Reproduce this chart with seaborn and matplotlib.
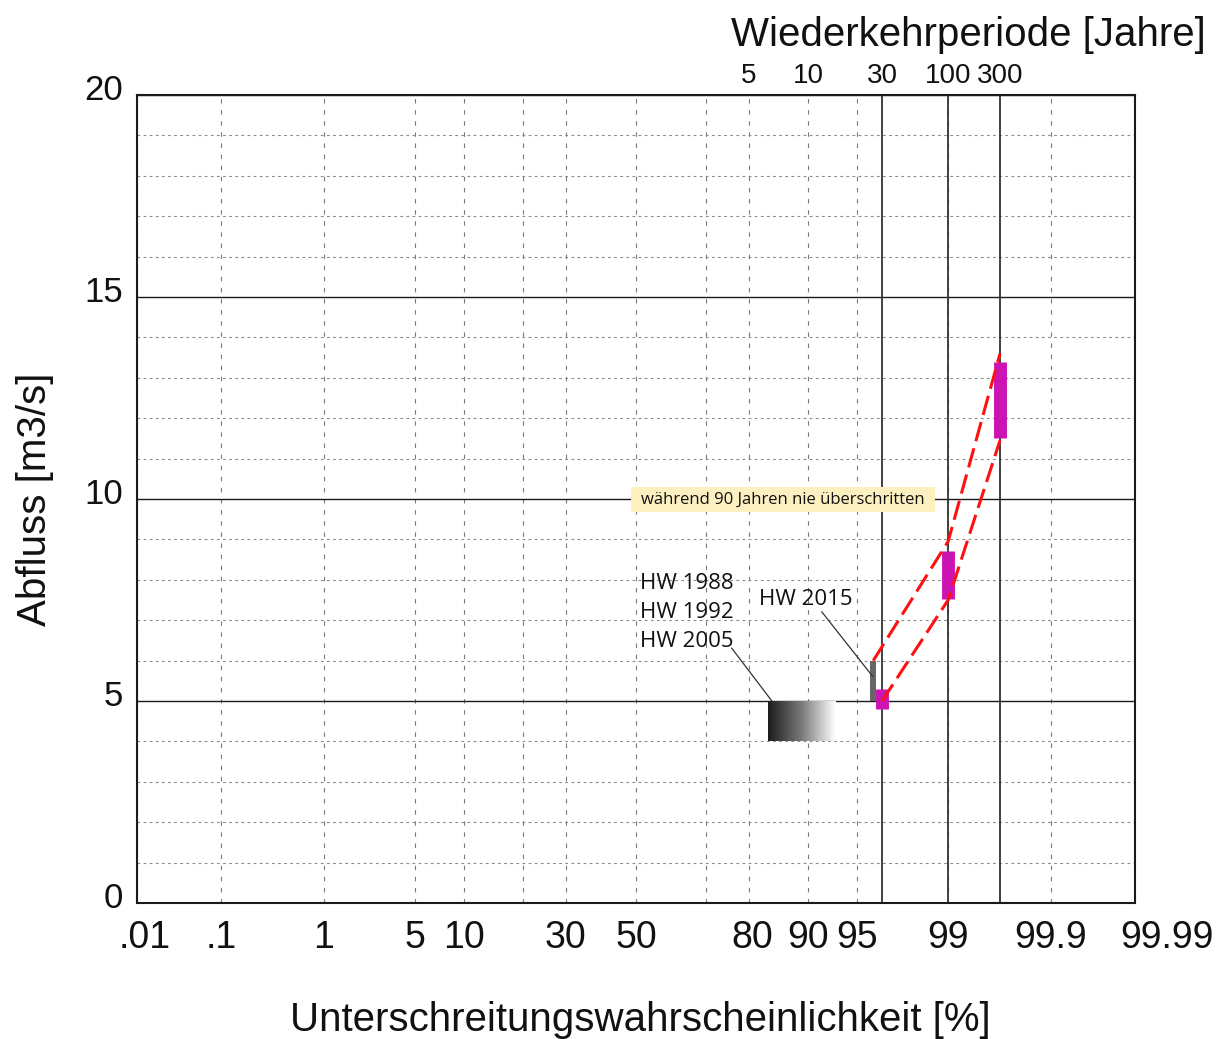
import numpy as np
import pandas as pd
import matplotlib
matplotlib.use("Agg")
import matplotlib.pyplot as plt
import matplotlib.transforms as mtransforms
from matplotlib.colors import LinearSegmentedColormap
import seaborn as sns
from statistics import NormalDist

# ---- axis definitions ---------------------------------------------------
prob_ticks = [0.01, 0.1, 1, 5, 10, 30, 50, 80, 90, 95, 99, 99.9, 99.99]
prob_labels = [".01", ".1", "1", "5", "10", "30", "50", "80", "90", "95", "99", "99.9", "99.99"]
prob_minor = [20, 70]
return_periods = [5, 10, 30, 100, 300]
marked_periods = [30, 100, 300]
q_ticks = [0, 5, 10, 15, 20]
q_minor = list(range(0, 21))

# ---- data ---------------------------------------------------------------
# estimated design discharge range for the marked return periods
design_T = [30, 100, 300]
design_low = [4.8, 7.52, 11.5]
design_high = [5.3, 8.72, 13.38]

# envelope of the estimate (red dashed)
upper_p = [96.15, 99.0, 99.667]
upper_q = [6.0, 8.95, 13.6]
lower_T = [30, 100, 300]
lower_q = [5.0, 7.5, 11.45]

# flood of 2015
hw2015_p = 96.15
hw2015_q = [5.0, 6.0]

# floods of 1988 / 1992 / 2005 (probability range)
hist_p = [83.7, 93.2]
hist_q = [4.0, 5.0]
hist_labels = ["HW 1988", "HW 1992", "HW 2005"]

note_text = "während 90 Jahren nie überschritten"

# ---- normal probability scale ------------------------------------------
_nd = NormalDist()
_ppf = np.vectorize(_nd.inv_cdf, otypes=[float])
_cdf = np.vectorize(_nd.cdf, otypes=[float])


def prob_to_z(p):
    p = np.clip(np.asarray(p, dtype=float) / 100.0, 1e-12, 1 - 1e-12)
    return _ppf(p)


def z_to_prob(z):
    return _cdf(np.asarray(z, dtype=float)) * 100.0


def period_to_prob(T):
    return 100.0 * (1.0 - 1.0 / np.asarray(T, dtype=float))


sns.set_theme(style="white")
plt.rcParams["font.family"] = ["Liberation Sans", "DejaVu Sans"]
plt.rcParams.update({"text.color": "#111111", "axes.labelcolor": "#111111",
                     "xtick.color": "#111111", "ytick.color": "#111111"})
HUMAN = ["Open Sans", "DejaVu Sans"]

fig = plt.figure(figsize=(12.24, 10.39), dpi=100)
ax = fig.add_axes([137 / 1224, 1 - 903 / 1039, 998 / 1224, 808 / 1039])
ax.set_xscale("function", functions=(prob_to_z, z_to_prob))
ax.set_xlim(0.01, 99.99)
ax.set_ylim(0, 20)

# ticks & grid
ax.set_xticks(prob_ticks)
ax.set_xticklabels(prob_labels, fontsize=27)
ax.set_xticks(prob_minor, minor=True)
ax.set_yticks(q_ticks)
ax.set_yticklabels([str(v) for v in q_ticks], fontsize=25)
ax.set_yticks(q_minor, minor=True)
ax.tick_params(which="both", length=0)
ax.tick_params(axis="x", pad=12)
ax.tick_params(axis="y", pad=10)
ax.set_axisbelow(True)
ax.xaxis.grid(True, which="both", ls=(0, (4, 6)), color="#7a7a7a", lw=0.8)
ax.yaxis.grid(True, which="minor", ls=(0, (2.5, 3)), color="#8c8c8c", lw=0.8)
ax.yaxis.grid(True, which="major", ls="-", color="#1a1a1a", lw=1.0)

for sp in ax.spines.values():
    sp.set_color("#1a1a1a")
    sp.set_linewidth(1.5)

# tick label nudges
up = mtransforms.ScaledTranslation(0, 8 / 100, fig.dpi_scale_trans)
for lab in ax.get_yticklabels():
    lab.set_transform(lab.get_transform() + up)
shifts = {".01": 8, "99.99": 32, "80": 3}
for lab in ax.get_xticklabels():
    dx = shifts.get(lab.get_text(), 0)
    if dx:
        lab.set_transform(lab.get_transform() + mtransforms.ScaledTranslation(dx / 100, 0, fig.dpi_scale_trans))

# solid lines for the marked return periods
for T in marked_periods:
    ax.axvline(period_to_prob(T), color="#333333", lw=1.3, zorder=1.5)

# historic floods band with fading fill
z_edges = np.linspace(prob_to_z(hist_p[0]), prob_to_z(hist_p[1]), 90)
x_edges = z_to_prob(z_edges)
shade = np.linspace(0, 1, len(x_edges) - 1)[None, :]
fade = LinearSegmentedColormap.from_list("fade", ["#1c1c1c", "#7a7a7a", "#ffffff"])
ax.pcolormesh(x_edges, hist_q, shade, cmap=fade, shading="flat", zorder=2)

# 2015 flood bar
ax.vlines(hw2015_p, hw2015_q[0], hw2015_q[1], color="#666666", lw=4.3, capstyle="butt", zorder=3)

# design discharge ranges
ax.vlines(period_to_prob(design_T), design_low, design_high, color="#cc14b4",
          lw=9.3, capstyle="butt", zorder=3)

# envelope
env = pd.DataFrame({
    "p": list(upper_p) + list(period_to_prob(lower_T)),
    "q": upper_q + lower_q,
    "line": ["upper"] * len(upper_q) + ["lower"] * len(lower_q),
})
sns.lineplot(data=env, x="p", y="q", units="line", estimator=None, sort=False,
             color="#ff1111", lw=2.2, linestyle=(0, (6.5, 2.4)), ax=ax, zorder=4,
             legend=False)

# note box on the 10 m3/s line
ax.fill_between([48.42, 98.71], 9.68, 10.30, color="#fdf0c0", lw=0, zorder=2.5)
ax.text(86.3, 9.99, note_text, ha="center", va="center", fontsize=12,
        family=HUMAN, color="#111111", zorder=3)

# flood labels with leader lines
for lab, q in zip(hist_labels, [7.77, 7.05, 6.34]):
    ax.text(51.2, q, lab, ha="left", va="baseline", fontsize=16, family=HUMAN,
            color="#111111", zorder=3)
ax.text(82.0, 7.38, "HW 2015", ha="left", va="baseline", fontsize=16, family=HUMAN,
        color="#111111", zorder=3)
leader = dict(arrowstyle="-", color="#333333", lw=0.9, shrinkA=0, shrinkB=0)
ax.annotate("", xy=(84.98, 4.90), xytext=(76.2, 6.31), arrowprops=leader, zorder=3)
ax.annotate("", xy=(96.13, 5.60), xytext=(91.68, 7.21), arrowprops=leader, zorder=3)

ax.set_xlabel("Unterschreitungswahrscheinlichkeit [%]", fontsize=29)
ax.xaxis.set_label_coords(0.504, -0.121)
ax.set_ylabel("Abfluss [m3/s]", fontsize=29)
ax.yaxis.set_label_coords(-0.083, 0.5)

# return period axis on top
ax2 = ax.twiny()
ax2.set_xscale("function", functions=(prob_to_z, z_to_prob))
ax2.set_xlim(ax.get_xlim())
ax2.set_xticks(period_to_prob(return_periods))
ax2.set_xticklabels([str(T) for T in return_periods], fontsize=20)
ax2.tick_params(length=0, pad=4)
ax2.grid(False)
for sp in ax2.spines.values():
    sp.set_visible(False)
ax2.set_xlabel("Wiederkehrperiode [Jahre]", fontsize=29)
ax2.xaxis.set_label_coords(0.833, 1.061)

fig.savefig("out.png", dpi=100)
